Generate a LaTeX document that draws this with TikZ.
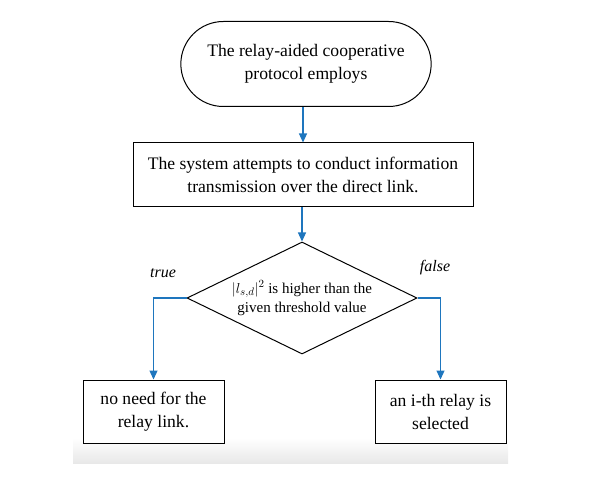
\documentclass[tikz,border=0pt]{standalone}
\usepackage{fontspec}
\setmainfont{Liberation Serif}
\usetikzlibrary{shapes,arrows,positioning,calc,arrows.meta}
\definecolor{flowblue}{RGB}{30,118,190}
\begin{document}
\begin{tikzpicture}[x=1pt, y=-1pt,
        terminal/.style={draw, line width=1pt, rounded rectangle, minimum width=257pt, minimum height=85pt, align=center, font=\fontsize{17.6}{23}\selectfont},
        block/.style={draw, line width=1pt, fill=white, rectangle, minimum height=63pt, align=center, font=\fontsize{17.6}{23}\selectfont},
        decision/.style={draw, line width=1pt, diamond, aspect=2.05, inner sep=0pt, minimum width=230pt, minimum height=112pt, align=center, font=\fontsize{15}{19}\selectfont},
        branch/.style={font=\itshape\fontsize{16}{18}\selectfont},
        flow/.style={draw=flowblue, line width=1.2pt, -{Triangle[width=8pt,length=9pt,fill=flowblue]}}
    ]
        \useasboundingbox (0,0) rectangle (605,489);
        % faint shadow band below the two outcome boxes
        \shade [top color=white, bottom color=black!9] (73,438) rectangle (508,463);

        \node [terminal] (start) at (306,64) {The relay-aided cooperative\\protocol employs};
        \node [block, minimum width=340pt, minimum height=64pt] (direct) at (303,175) {The system attempts to conduct information\\transmission over the direct link.};
        \node [decision] (check) at (302,298) {$|l_{s,d}|^{2}$ is higher than the\\given threshold value};
        \node [block, minimum width=141pt] (norelay) at (153.5,411.5) {no need for the\\relay link.};
        \node [block, minimum width=131pt] (relay) at (440.5,411.5) {an i-th relay is\\selected};

        \draw [flow] (direct.north |- start.south) -- (direct.north);
        \draw [flow] (check.north |- direct.south) -- (check.north);
        \draw [flow] (check.west) -| (norelay.north);
        \draw [flow] (check.east) -| (relay.north);

        \node [branch] (true) at (163,273) {true};
        \node [branch] (false) at (435,268) {false};
    \end{tikzpicture}
\end{document}
